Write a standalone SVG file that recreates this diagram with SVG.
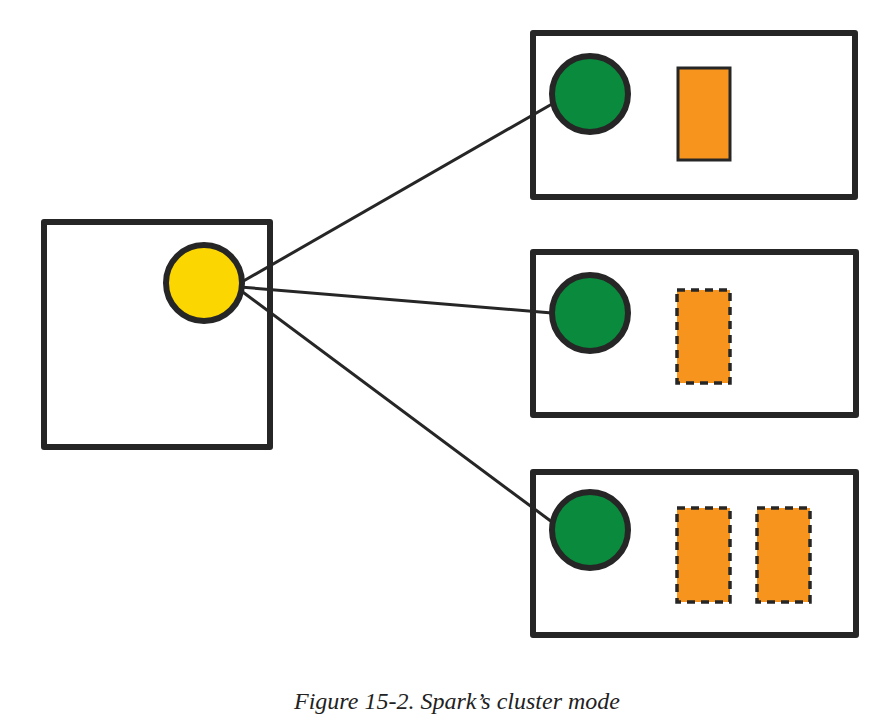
<svg xmlns="http://www.w3.org/2000/svg" width="878" height="723" viewBox="0 0 878 723">
<style>
.box{fill:#fff;stroke:#262626;stroke-width:6;stroke-linejoin:round}
.g{fill:#0a8a3c;stroke:#262626;stroke-width:6}
.y{fill:#fcd600;stroke:#262626;stroke-width:6}
.o{fill:#f7941e;stroke:#262626;stroke-width:3}
.od{fill:#f7941e;stroke:#262626;stroke-width:3.5;stroke-dasharray:8 6}
.c{stroke:#262626;stroke-width:3;fill:none}
</style>
<rect width="878" height="723" fill="#fff"/>
<g id="driver"><rect class="box" x="44" y="222" width="226" height="225"/></g>
<g id="worker1"><rect class="box" x="533" y="33" width="322" height="164"/></g>
<g id="worker2"><rect class="box" x="533" y="252" width="323" height="163"/></g>
<g id="worker3"><rect class="box" x="533" y="472" width="323" height="163"/></g>
<g id="connectors">
<line class="c" x1="240" y1="283" x2="552" y2="104"/>
<line class="c" x1="240" y1="287" x2="552" y2="313"/>
<line class="c" x1="240" y1="290" x2="552" y2="522"/>
</g>
<g id="sparkcontext"><circle class="y" cx="204" cy="283" r="38"/></g>
<g id="executor1"><circle class="g" cx="590" cy="94" r="38"/><rect class="o" x="678" y="68" width="52" height="92"/></g>
<g id="executor2"><circle class="g" cx="590" cy="313" r="38"/><rect class="od" x="677" y="290" width="53" height="93"/></g>
<g id="executor3"><circle class="g" cx="590" cy="530" r="38"/><rect class="od" x="677" y="508" width="53" height="94"/><rect class="od" x="757" y="508" width="53" height="94"/></g>
<text x="457" y="709" text-anchor="middle" font-family="Liberation Serif, serif" font-style="italic" font-size="24" fill="#222">Figure 15-2. Spark’s cluster mode</text>
</svg>
